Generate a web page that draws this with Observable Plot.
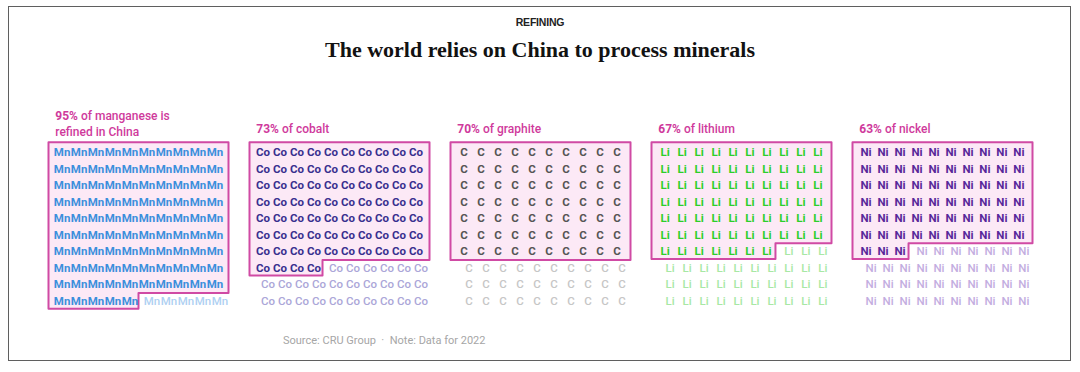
<!DOCTYPE html>
<html><head><meta charset="utf-8">
<script src="https://cdn.jsdelivr.net/npm/d3@7"></script>
<script src="https://cdn.jsdelivr.net/npm/@observablehq/plot@0.6"></script>
<style>
body{margin:0;background:#fff;}
#wrap{position:relative;width:1080px;height:372px;overflow:hidden;font-family:Roboto,"Liberation Sans",sans-serif;background:#fff;}
#frame{position:absolute;left:8px;top:6px;width:1063px;height:355px;border:1.5px solid #5f5f5f;box-sizing:border-box;}
#kicker{position:absolute;top:16px;left:0;width:1080px;text-align:center;font-family:"Liberation Sans",Arial,sans-serif;font-weight:bold;font-size:10.5px;letter-spacing:-0.2px;color:#222;}
#title{position:absolute;top:37px;left:0;width:1080px;text-align:center;font-family:"Liberation Serif","DejaVu Serif",serif;font-weight:bold;font-size:22px;color:#121212;}
#chart{position:absolute;left:0;top:100px;}
#source{position:absolute;left:283px;top:334px;font-size:11px;color:#a6a6a6;white-space:pre;}
</style></head>
<body>
<div id="wrap">
  <div id="frame"></div>
  <div id="kicker">REFINING</div>
  <div id="title">The world relies on China to process minerals</div>
  <div id="chart"></div>
  <div id="source">Source: CRU Group  ·  Note: Data for 2022</div>
</div>
<script>
// ---- data ----
const minerals = ["Mn", "Co", "C", "Li", "Ni"];
const names = ["manganese", "cobalt", "graphite", "lithium", "nickel"];
const shares = [95, 73, 70, 67, 63];            // % refined in China
const chinaCells = [95, 74, 70, 67, 63];        // highlighted symbols drawn in the picture (out of 100)
const labels = ["95% of manganese is\nrefined in China", "73% of cobalt", "70% of graphite", "67% of lithium", "63% of nickel"];
const darkColors = ["#3b8fdc", "#38308f", "#555555", "#2ccf2c", "#58289a"];
const lightColors = ["#aed0f2", "#aba6d8", "#c6c6c6", "#a8e8a4", "#c3addf"];

// ---- derived tables ----
const cells = [];
minerals.forEach((m, k) => {
  for (let i = 0; i < 100; i++) {
    cells.push({mineral: m, col: i % 10, row: Math.floor(i / 10), china: i < chinaCells[k],
      dark: darkColors[k], light: lightColors[k]});
  }
});
const outline = [];
minerals.forEach((m, k) => {
  const n = chinaCells[k], full = Math.floor(n / 10), r = n % 10;
  const L = -0.3, R = 10.3, T = -0.62;
  const pts = r === 0
    ? [[L, T], [R, T], [R, full - 0.5], [L, full - 0.5]]
    : [[L, T], [R, T], [R, full - 0.5], [r, full - 0.5], [r, full + 0.45], [L, full + 0.45]];
  pts.forEach(([x, y]) => outline.push({mineral: m, x, y}));
});
const labelRows = minerals.map((m, k) => ({mineral: m, label: labels[k], y: labels[k].includes("\n") ? -1.8 : -1.5}));

const chart = Plot.plot({
  width: 1080,
  height: 220,
  marginTop: 42,
  marginBottom: 11,
  marginLeft: 47,
  marginRight: 48,
  fx: {domain: minerals, paddingInner: 0.106, paddingOuter: 0, axis: null},
  x: {domain: [-0.3, 10.3], axis: null},
  y: {domain: [-0.6, 9.5], reverse: true, axis: null},
  color: {type: "identity"},
  style: {fontFamily: "Roboto, 'Liberation Sans', sans-serif", overflow: "visible"},
  marks: [
    Plot.line(outline, {fx: "mineral", x: "x", y: "y", z: "mineral", curve: "linear-closed",
      fill: "#fce9f6", stroke: "#d04aa4", strokeWidth: 2, strokeLinejoin: "round"}),
    Plot.text(cells.filter(d => d.china), {fx: "mineral", x: d => d.col + 0.5, y: "row", text: "mineral",
      fill: "dark", fontWeight: "bold", fontSize: 11.5}),
    Plot.text(cells.filter(d => !d.china), {fx: "mineral", x: d => d.col + 0.5, y: "row", text: "mineral",
      fill: "light", fontWeight: "500", fontSize: 11.5, dx: 5}),
    Plot.text(labelRows, {fx: "mineral", x: 0.1, y: "y", text: "label", textAnchor: "start",
      fill: "#cf3a9c", fontSize: 12, fontWeight: 500, lineHeight: 1.33})
  ]
});
document.getElementById("chart").appendChild(chart);

// bold the percentage part of each label
const ns = "http://www.w3.org/2000/svg";
chart.querySelectorAll("text, tspan").forEach(t => {
  if (t.children.length) return;
  const s = t.textContent;
  const m = s.match(/^(\d+%)(.*)$/);
  if (!m) return;
  t.textContent = "";
  const b = document.createElementNS(ns, "tspan");
  b.setAttribute("font-weight", "bold");
  b.textContent = m[1];
  const rest = document.createElementNS(ns, "tspan");
  rest.textContent = m[2];
  t.appendChild(b);
  t.appendChild(rest);
});
</script>
</body></html>
